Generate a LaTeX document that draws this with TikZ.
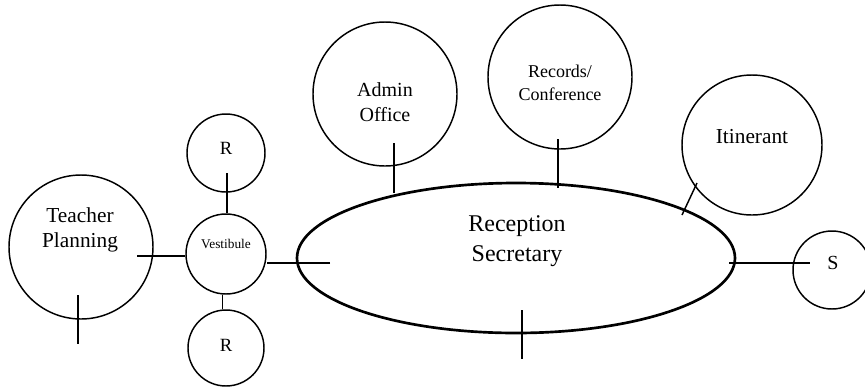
\documentclass[tikz,border=0pt]{standalone}
\usepackage{fontspec}
\setmainfont{Liberation Serif}
\usetikzlibrary{shapes.geometric}

\begin{document}
\begin{tikzpicture}[x=0.75pt,y=-0.75pt]
  \tikzstyle{room}=[circle,draw,line width=1.1pt,inner sep=0pt]
  \tikzstyle{wall}=[line width=1.1pt]
  \tikzstyle{lbl}=[align=center,inner sep=0pt]
  \useasboundingbox (0,0) rectangle (865,390);
  % rooms
  \node[ellipse,draw,line width=2pt,inner sep=0pt,minimum width=328.5pt,minimum height=112.5pt] (rec) at (516,258) {};
  \node[room,minimum size=108pt] (tp) at (81,247) {};
  \node[room,minimum size=60pt] (vest) at (226,254) {};
  \node[room,minimum size=58.5pt] (rt) at (226,153) {};
  \node[room,minimum size=57pt] (rb) at (226,348) {};
  \node[room,minimum size=108pt] (adm) at (385,94) {};
  \node[room,minimum size=108pt] (recd) at (560,77) {};
  \node[room,minimum size=105pt] (it) at (752,145) {};
  \node[room,minimum size=58.5pt] (s) at (832,270) {};
  % labels
  \node[lbl,font=\fontsize{18}{22}\selectfont] (rec-txt) at (517,241) {Reception\\Secretary};
  \node[lbl,font=\fontsize{16}{19}\selectfont] (tp-txt) at (80,230) {Teacher\\Planning};
  \node[lbl,font=\fontsize{10}{12}\selectfont] (vest-txt) at (226,244) {Vestibule};
  \node[lbl,font=\fontsize{14}{16}\selectfont] (rt-txt) at (226,148) {R};
  \node[lbl,font=\fontsize{14}{16}\selectfont] (rb-txt) at (226,345) {R};
  \node[lbl,font=\fontsize{15}{19}\selectfont] (adm-txt) at (385,102) {Admin\\Office};
  \node[lbl,font=\fontsize{13.5}{17}\selectfont] (recd-txt) at (560,83) {Records/\\Conference};
  \node[lbl,font=\fontsize{16}{19}\selectfont] (it-txt) at (752,137) {Itinerant};
  \node[lbl,font=\fontsize{15}{18}\selectfont] (s-txt) at (833,263) {S};
  % openings
  \coordinate (tpE) at (137,256);
  \coordinate (recW) at (330,263);
  \coordinate (rtIn) at (227,173);
  \coordinate (tpT) at (78,295);
  \coordinate (tpB) at (78,344);
  \coordinate (admIn) at (394,143);
  \coordinate (admOut) at (394,193);
  \coordinate (recdIn) at (558,139);
  \coordinate (recdOut) at (558,188);
  \coordinate (itIn) at (697,183);
  \coordinate (itOut) at (682,215);
  \coordinate (sE) at (729,263);
  \coordinate (sIn) at (810,263);
  \coordinate (recT) at (522,310);
  \coordinate (recB) at (522,359);
  \draw[wall] (tpE) -- (tpE -| vest.west);
  \draw[wall] (recW) -- (recW -| vest.east);
  \draw[wall] (rtIn) -- (rtIn |- vest.north);
  \draw[wall] (vest.265) -- (vest.265 |- rb.north);
  \draw[wall] (tpT) -- (tpB);
  \draw[wall] (admIn) -- (admOut);
  \draw[wall] (recdIn) -- (recdOut);
  \draw[wall] (itIn) -- (itOut);
  \draw[wall] (sE) -- (sIn);
  \draw[wall] (recT) -- (recB);
\end{tikzpicture}
\end{document}
